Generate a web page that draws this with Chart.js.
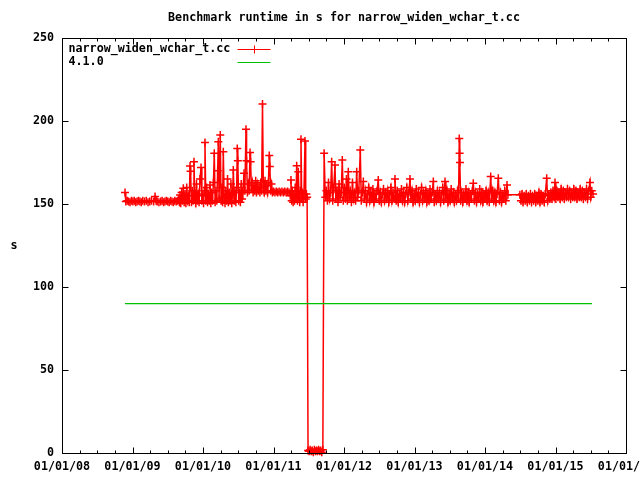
<!DOCTYPE html>
<html>
<head>
<meta charset="utf-8">
<script src="https://cdn.jsdelivr.net/npm/chart.js@4.4.1/dist/chart.umd.min.js"></script>
<style>
html,body{margin:0;padding:0;background:#fff;}
#wrap{width:640px;height:480px;position:relative;}
canvas{display:block;}
</style>
</head>
<body>
<div id="wrap"><canvas id="c" width="640" height="480"></canvas></div>
<script>
// ---- data (x in decimal years, y in seconds) ----
const chartTitle = 'Benchmark runtime in s for narrow_widen_wchar_t.cc';
const yAxisLabel = 's';
const seriesNames = ['narrow_widen_wchar_t.cc', '4.1.0'];

const xTickValues = [2008, 2009, 2010, 2011, 2012, 2013, 2014, 2015, 2016];
const xTickLabels = ['01/01/08', '01/01/09', '01/01/10', '01/01/11', '01/01/12', '01/01/13', '01/01/14', '01/01/15', '01/01/16'];
const yTickValues = [0, 50, 100, 150, 200, 250];

const runYears = [
  2008.894, 2008.905, 2008.925, 2008.945, 2008.965, 2008.985, 2009.005, 2009.025, 2009.045, 2009.065,
  2009.085, 2009.105, 2009.125, 2009.145, 2009.170, 2009.195, 2009.220, 2009.245, 2009.270, 2009.300,
  2009.320, 2009.335, 2009.350, 2009.375, 2009.400, 2009.420, 2009.440, 2009.460, 2009.480, 2009.500,
  2009.520, 2009.540, 2009.560, 2009.580, 2009.600, 2009.620, 2009.640,
  2009.655, 2009.665, 2009.674, 2009.685, 2009.697, 2009.708, 2009.721, 2009.733, 2009.745, 2009.757,
  2009.769, 2009.781, 2009.793, 2009.805, 2009.816, 2009.824, 2009.836, 2009.848, 2009.860, 2009.872,
  2009.884, 2009.896, 2009.908, 2009.920, 2009.932, 2009.944, 2009.958, 2009.972, 2009.984, 2009.996,
  2010.008, 2010.018, 2010.028, 2010.040, 2010.052, 2010.064, 2010.076, 2010.088, 2010.099, 2010.111,
  2010.123, 2010.135, 2010.148, 2010.160, 2010.172, 2010.184, 2010.196, 2010.208, 2010.217, 2010.228,
  2010.245, 2010.256, 2010.268, 2010.278, 2010.288, 2010.300, 2010.312, 2010.324, 2010.336, 2010.348,
  2010.360, 2010.372, 2010.384, 2010.396, 2010.408, 2010.420, 2010.430, 2010.442, 2010.454, 2010.466,
  2010.478, 2010.486, 2010.494, 2010.506, 2010.518, 2010.530, 2010.542, 2010.554, 2010.566, 2010.582,
  2010.594, 2010.610, 2010.618, 2010.630, 2010.642, 2010.654, 2010.667, 2010.675, 2010.687, 2010.699,
  2010.711, 2010.723, 2010.735, 2010.747, 2010.759, 2010.771, 2010.783, 2010.795, 2010.807, 2010.819,
  2010.831, 2010.844, 2010.856, 2010.868, 2010.880, 2010.892, 2010.904, 2010.916, 2010.928, 2010.940,
  2010.948, 2010.960, 2010.972, 2010.984,
  2011.000, 2011.020, 2011.040, 2011.060, 2011.080, 2011.100, 2011.120, 2011.140, 2011.160, 2011.180,
  2011.200, 2011.220,
  2011.238, 2011.248, 2011.258, 2011.268, 2011.278, 2011.288, 2011.298, 2011.308, 2011.318, 2011.329,
  2011.340, 2011.352, 2011.362, 2011.372, 2011.380, 2011.390, 2011.400, 2011.410, 2011.420, 2011.432,
  2011.447, 2011.457, 2011.467, 2011.477,
  2011.490, 2011.505, 2011.520, 2011.535, 2011.550, 2011.565, 2011.580, 2011.595, 2011.610, 2011.625,
  2011.640, 2011.655, 2011.670, 2011.685, 2011.700,
  2011.718, 2011.735, 2011.750, 2011.765, 2011.780, 2011.795, 2011.810, 2011.825, 2011.840, 2011.855,
  2011.872, 2011.885, 2011.900, 2011.915, 2011.930, 2011.945, 2011.960, 2011.976, 2011.990, 2012.005,
  2012.020, 2012.035, 2012.048, 2012.061, 2012.075, 2012.090, 2012.105, 2012.120, 2012.135, 2012.150,
  2012.165, 2012.180, 2012.195, 2012.210, 2012.231, 2012.245, 2012.260, 2012.274, 2012.290, 2012.305,
  2012.320, 2012.335, 2012.350, 2012.365, 2012.380, 2012.395, 2012.410, 2012.425, 2012.440, 2012.455,
  2012.470, 2012.486, 2012.500, 2012.515, 2012.530, 2012.545, 2012.560, 2012.575, 2012.590, 2012.605,
  2012.620, 2012.635, 2012.650, 2012.665, 2012.680, 2012.695, 2012.710, 2012.723, 2012.740, 2012.755,
  2012.770, 2012.785, 2012.800, 2012.815, 2012.830, 2012.845, 2012.860, 2012.875, 2012.890, 2012.905,
  2012.920, 2012.936, 2012.950, 2012.965, 2012.980, 2012.995, 2013.010, 2013.025, 2013.040, 2013.055,
  2013.070, 2013.085, 2013.100, 2013.115, 2013.130, 2013.145, 2013.160, 2013.175, 2013.190, 2013.205,
  2013.220, 2013.235, 2013.250, 2013.267, 2013.280, 2013.295, 2013.310, 2013.325, 2013.340, 2013.355,
  2013.370, 2013.385, 2013.400, 2013.415, 2013.433, 2013.445, 2013.460, 2013.475, 2013.490, 2013.505,
  2013.520, 2013.535, 2013.550, 2013.565, 2013.580, 2013.595, 2013.610, 2013.625, 2013.635, 2013.640,
  2013.645, 2013.655, 2013.670, 2013.685, 2013.700, 2013.715, 2013.730, 2013.745, 2013.760, 2013.775,
  2013.790, 2013.805, 2013.820, 2013.834, 2013.850, 2013.865, 2013.880, 2013.895, 2013.910, 2013.925,
  2013.940, 2013.955, 2013.970, 2013.985, 2014.000, 2014.015, 2014.030, 2014.045, 2014.060, 2014.081,
  2014.095, 2014.110, 2014.125, 2014.140, 2014.155, 2014.170, 2014.189, 2014.205, 2014.220, 2014.235,
  2014.250, 2014.265, 2014.280, 2014.295, 2014.312, 2014.325,
  2014.495, 2014.510, 2014.525, 2014.540, 2014.555, 2014.570, 2014.585, 2014.600, 2014.615, 2014.630,
  2014.645, 2014.660, 2014.675, 2014.690, 2014.705, 2014.720, 2014.735, 2014.750, 2014.765, 2014.780,
  2014.795, 2014.810, 2014.825, 2014.840, 2014.855, 2014.875, 2014.890, 2014.905, 2014.920, 2014.935,
  2014.950, 2014.965, 2014.980, 2014.993, 2015.005, 2015.020, 2015.035, 2015.050, 2015.065, 2015.080,
  2015.095, 2015.110, 2015.125, 2015.140, 2015.155, 2015.170, 2015.185, 2015.200, 2015.215, 2015.230,
  2015.245, 2015.260, 2015.275, 2015.290, 2015.305, 2015.320, 2015.335, 2015.350, 2015.365, 2015.380,
  2015.395, 2015.410, 2015.425, 2015.440, 2015.455, 2015.470, 2015.489, 2015.500, 2015.515, 2015.532
];

const runSeconds = [
  157, 151.5, 152, 151.5, 151, 152, 151.5, 152, 151, 151.5,
  152, 151.5, 151, 152, 151.5, 152, 151, 151.5, 152, 151.5,
  154.5, 152, 151.5, 151, 151.5, 152, 151, 151.5, 152, 151.5,
  151, 152, 151.5, 151, 152, 151.5, 152,
  153, 151, 155.4, 150.5, 157, 152, 159.5, 151, 156, 150.5,
  160, 152, 155, 151, 172.9, 169.7, 151, 158, 152, 175.5,
  153, 150.5, 162, 152, 156, 151, 165, 172, 152, 155,
  150.5, 158, 187, 152, 160, 151, 156, 152, 161.5, 150.5,
  157, 152, 163, 180.5, 151, 158, 152, 170, 187.5, 153,
  191.5, 152, 160, 151, 181.5, 154, 150.5, 158, 152, 165,
  151, 157, 152, 162, 150.5, 156, 170.5, 152, 158, 151,
  160, 183.5, 176, 152, 157, 151, 162, 153, 158, 168.5,
  158, 195, 176, 157, 162, 158, 181, 175.5, 159, 163,
  157, 161, 158, 164, 157, 162, 158, 160, 157, 163,
  158, 210.3, 160, 157, 164, 158, 161, 157, 163, 179.2,
  172.6, 158, 162, 157,
  157.5, 157, 157.5, 157, 157.5, 157, 157.5, 157, 157.5, 157,
  157.5, 157,
  155, 164.5, 152, 158, 151, 156, 152, 160, 153, 173,
  152, 169.5, 154, 151, 158, 189, 153, 157, 151, 156,
  188, 153, 156, 154,
  1.5, 1, 2, 1, 1.5, 0.5, 2, 1, 1.5, 1,
  2, 1, 1.5, 0.5, 2,
  180.5, 154, 158, 152, 163, 153, 157, 175.5, 152, 160,
  173.5, 153, 158, 151, 162, 154, 157, 176.5, 152, 160,
  153, 165, 152, 169.5, 154, 158, 151, 163, 153, 157,
  152, 169.5, 154, 158, 182.5, 152, 157, 163.5, 153, 158,
  151, 156, 160, 152, 157, 153, 159, 151, 156, 153,
  158, 164.5, 152, 157, 151, 156, 159, 152, 157, 153,
  158, 151, 156, 160, 152, 157, 153, 165, 152, 158,
  151, 156, 153, 159, 152, 157, 151, 156, 160, 152,
  157, 165, 153, 158, 151, 156, 152, 159, 153, 157,
  151, 156, 160, 152, 157, 153, 158, 151, 156, 152,
  159, 153, 157, 163.5, 151, 156, 152, 158, 153, 157,
  151, 156, 160, 152, 163.5, 153, 158, 151, 156, 152,
  159, 153, 157, 151, 156, 152, 158, 153, 189.5, 180.5,
  175, 152, 157, 151, 156, 153, 159, 152, 157, 151,
  156, 153, 158, 162.5, 152, 157, 151, 156, 153, 159,
  152, 157, 151, 156, 153, 158, 152, 157, 151, 166.5,
  153, 158, 152, 157, 151, 156, 165.5, 152, 157, 151,
  156, 153, 158, 152, 161.5, 155.5,
  155.5, 152, 156, 151, 155, 152, 156, 151, 155, 152,
  156, 151, 155, 152, 156, 151, 155, 152, 157, 151,
  156, 152, 155, 151, 156, 165.5, 152, 156, 153, 157,
  153, 158, 154, 163, 153, 158, 154, 157, 153, 159,
  154, 158, 153, 157, 154, 159, 154, 158, 153, 157,
  154, 159, 154, 158, 153, 157, 154, 159, 154, 158,
  153, 157, 154, 159, 153, 158, 163, 154, 158, 156
];

const refYears = [2008.894, 2015.518];
const refSeconds = [90, 90];

// ---- chart ----
const FONT = '"DejaVu Sans Mono", "Liberation Mono", monospace';
const FSIZE = 11.7;
const toPoints = (xs, ys) => xs.map((x, i) => ({ x: x, y: ys[i] }));

const gnuplotDecor = {
  id: 'gnuplotDecor',
  afterDatasetsDraw(chart) {
    const ctx = chart.ctx;
    const a = chart.chartArea;
    const xs = chart.scales.x, ys = chart.scales.y;
    const L = Math.round(a.left) + 0.5, R = Math.round(a.right) + 0.5;
    const T = Math.round(a.top) + 0.5, B = Math.round(a.bottom) + 0.5;
    ctx.save();
    ctx.strokeStyle = '#000';
    ctx.lineWidth = 1;
    ctx.beginPath();
    // x ticks: majors at years, minors at quarters (inward, mirrored on top)
    for (let i = 0; i < xTickValues.length; i++) {
      for (let q = 0; q < 4; q++) {
        const v = xTickValues[i] + q * 0.25;
        if (v > xTickValues[xTickValues.length - 1]) break;
        const px = Math.round(xs.getPixelForValue(v)) + 0.5;
        const len = q === 0 ? 6 : 3;
        ctx.moveTo(px, B); ctx.lineTo(px, B - len);
        ctx.moveTo(px, T); ctx.lineTo(px, T + len);
      }
    }
    // y ticks (inward, mirrored on right)
    yTickValues.forEach(v => {
      const py = Math.round(ys.getPixelForValue(v)) + 0.5;
      ctx.moveTo(L, py); ctx.lineTo(L + 6, py);
      ctx.moveTo(R, py); ctx.lineTo(R - 6, py);
    });
    ctx.stroke();
    // frame
    ctx.strokeRect(L, T, R - L, B - T);

    // key (legend) inside top-left
    ctx.font = 'bold ' + FSIZE + 'px ' + FONT;
    ctx.fillStyle = '#000';
    ctx.textAlign = 'left';
    ctx.textBaseline = 'middle';
    const kx = L + 6, y1 = T + 10, y2 = T + 23;
    ctx.fillText(seriesNames[0], kx, y1);
    ctx.fillText(seriesNames[1], kx, y2);
    const sx0 = 237.5, sx1 = 270.5;
    ctx.beginPath();
    ctx.strokeStyle = chart.data.datasets[0].borderColor;
    ctx.moveTo(sx0, Math.round(y1) + 0.5); ctx.lineTo(sx1, Math.round(y1) + 0.5);
    const cx = 254.5, cy = Math.round(y1) + 0.5;
    ctx.moveTo(cx - 4, cy); ctx.lineTo(cx + 4, cy);
    ctx.moveTo(cx, cy - 4); ctx.lineTo(cx, cy + 4);
    ctx.stroke();
    ctx.beginPath();
    ctx.strokeStyle = chart.data.datasets[1].borderColor;
    ctx.moveTo(sx0, Math.round(y2) + 0.5); ctx.lineTo(sx1, Math.round(y2) + 0.5);
    ctx.stroke();

    // y axis label
    ctx.fillStyle = '#000';
    ctx.textAlign = 'center';
    ctx.fillText(yAxisLabel, 14, (a.top + a.bottom) / 2);
    ctx.restore();
  }
};

new Chart(document.getElementById('c'), {
  type: 'line',
  data: {
    datasets: [
      {
        label: seriesNames[0],
        data: toPoints(runYears, runSeconds),
        borderColor: '#ff0000',
        backgroundColor: '#ff0000',
        borderWidth: 1.5,
        pointStyle: 'cross',
        pointRadius: 4,
        pointBorderWidth: 1.5,
        pointBorderColor: '#ff0000',
        pointHoverRadius: 4,
        tension: 0,
        clip: 8,
        order: 1
      },
      {
        label: seriesNames[1],
        data: toPoints(refYears, refSeconds),
        borderColor: '#00c000',
        backgroundColor: '#00c000',
        borderWidth: 1.2,
        pointRadius: 0,
        tension: 0,
        order: 0
      }
    ]
  },
  options: {
    responsive: false,
    animation: false,
    devicePixelRatio: 1,
    events: [],
    layout: { padding: { left: 0, right: 14, top: 0, bottom: 0 } },
    plugins: {
      legend: { display: false },
      tooltip: { enabled: false },
      title: {
        display: true,
        text: chartTitle,
        color: '#000',
        fullSize: false,
        font: { family: FONT, size: FSIZE, weight: 'bold', lineHeight: 1.2 },
        padding: { top: 11, bottom: 12.96 }
      }
    },
    scales: {
      x: {
        type: 'linear',
        min: xTickValues[0],
        max: xTickValues[xTickValues.length - 1],
        afterBuildTicks: s => { s.ticks = xTickValues.map(v => ({ value: v })); },
        afterFit: s => { s.height = 27; s.paddingLeft = 0; s.paddingRight = 0; },
        grid: { display: false, drawTicks: false },
        border: { display: false },
        ticks: {
          autoSkip: false,
          maxRotation: 0,
          minRotation: 0,
          padding: 7,
          color: '#000',
          font: { family: FONT, size: FSIZE, weight: 'bold' },
          callback: v => xTickLabels[xTickValues.indexOf(v)]
        }
      },
      y: {
        type: 'linear',
        min: 0,
        max: 250,
        afterBuildTicks: s => { s.ticks = yTickValues.map(v => ({ value: v })); },
        afterFit: s => { s.width = 62; s.paddingTop = 0; s.paddingBottom = 0; },
        grid: { display: false, drawTicks: false },
        border: { display: false },
        ticks: {
          padding: 8,
          color: '#000',
          font: { family: FONT, size: FSIZE, weight: 'bold' },
          callback: v => String(v)
        }
      }
    }
  },
  plugins: [gnuplotDecor]
});
</script>
</body>
</html>
